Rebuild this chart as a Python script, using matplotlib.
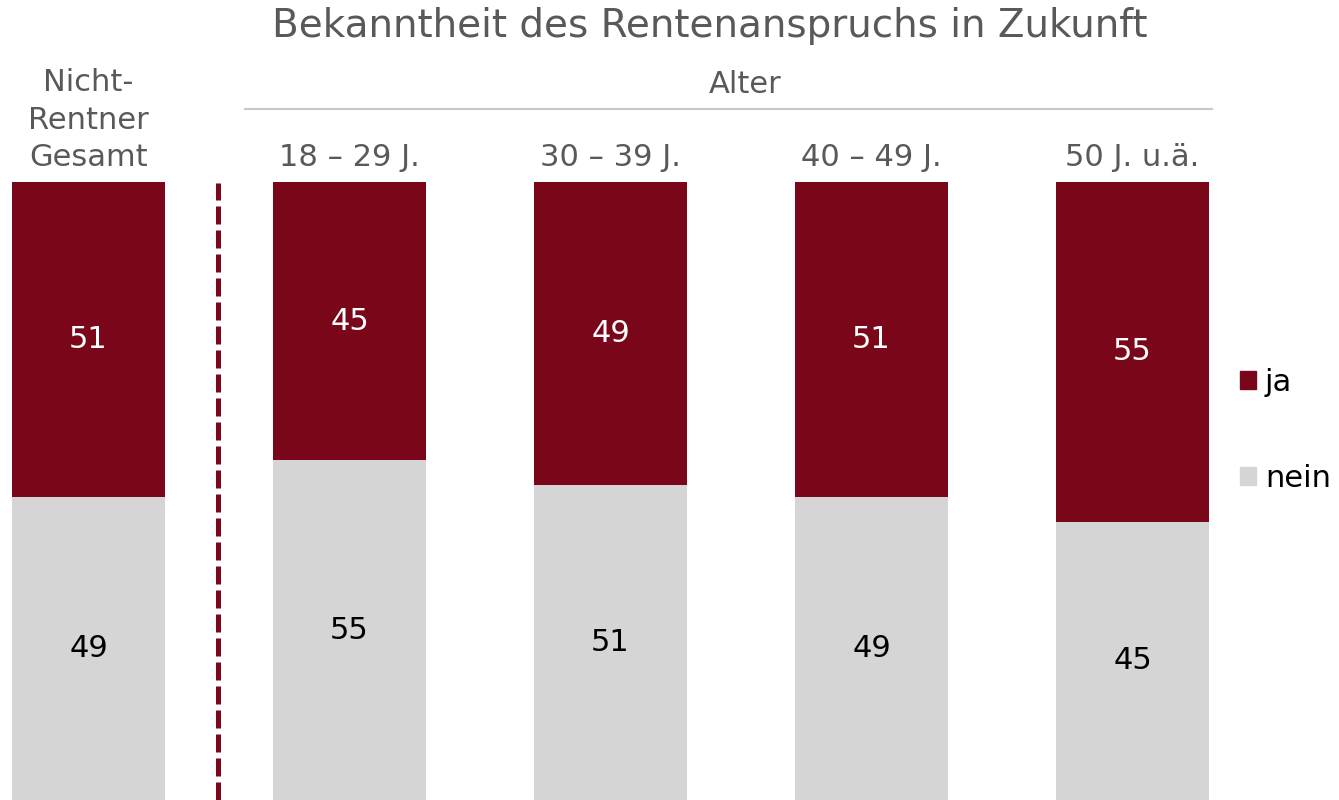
import matplotlib.pyplot as plt
from matplotlib.patches import Patch

# --- data ---
categories = ["Nicht-\nRentner\nGesamt", "18 – 29 J.", "30 – 39 J.", "40 – 49 J.", "50 J. u.ä."]
ja = [51, 45, 49, 51, 55]
nein = [49, 55, 51, 49, 45]

RED = "#7a0619"
GREY = "#d5d5d5"
TEXT_GREY = "#595959"

plt.rcParams["font.family"] = ["DejaVu Sans"]

fig = plt.figure(figsize=(13.39, 8.0), dpi=100)
# axes: bars run from the bottom edge up to pixel row 182
ax = fig.add_axes([0, 0, 1, 618 / 800])
ax.set_xlim(-88.5 / 261, (1339 - 88.5) / 261)
ax.set_ylim(0, 100)
ax.axis("off")

x = list(range(len(categories)))
width = 153 / 261

ax.bar(x, nein, width=width, color=GREY, label="nein")
ax.bar(x, ja, width=width, bottom=nein, color=RED, label="ja")

for i in x:
    ax.text(i, nein[i] / 2, str(nein[i]), ha="center", va="center",
            fontsize=22, color="black")
    ax.text(i, nein[i] + ja[i] / 2, str(ja[i]), ha="center", va="center",
            fontsize=22, color="white")

# category headers above the bars, all sharing the same bottom baseline
for i in x:
    ax.text(i, 102.6, categories[i], ha="center", va="baseline", fontsize=22,
            color=TEXT_GREY, linespacing=1.36, multialignment="center",
            clip_on=False)

# group header "Alter" with underline
ax.text(2.515, 114.4, "Alter", ha="center", va="baseline", fontsize=22,
        color=TEXT_GREY, clip_on=False)
ax.plot([0.600, 4.305], [111.8, 111.8], color="#c8c8c8", lw=1.5, clip_on=False)

# dashed separator between total and age groups
ax.plot([0.498, 0.498], [0, 99.8], color=RED, lw=3.6,
        linestyle=(0, (3.6, 1.2)), solid_capstyle="butt")

ax.text(2.38, 123.5, "Bekanntheit des Rentenanspruchs in Zukunft", ha="center",
        va="baseline", fontsize=28, color=TEXT_GREY, clip_on=False)

handles = [Patch(color=RED, label="ja"), Patch(color=GREY, label="nein")]
fig.legend(handles=handles, loc="center left", bbox_to_anchor=(1240 / 1339, 0.462),
           frameon=False, fontsize=22, handlelength=0.52, handleheight=0.52,
           handletextpad=0.3, labelspacing=2.2, borderpad=0, borderaxespad=0)

fig.savefig("out.png", dpi=100)
